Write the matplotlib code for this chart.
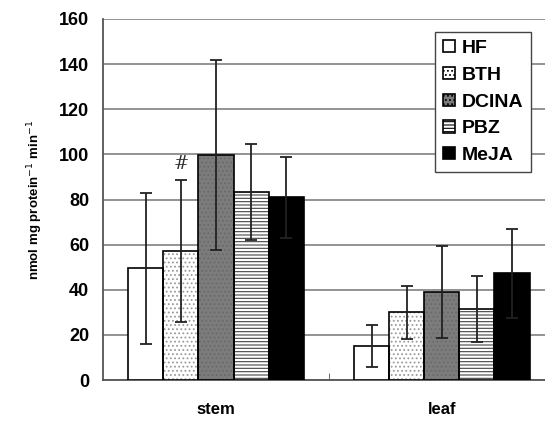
import numpy as np
import matplotlib
matplotlib.use("Agg")
import matplotlib.pyplot as plt
from matplotlib.patches import Patch

tissues = ["stem", "leaf"]
treatments = ["HF", "BTH", "DCINA", "PBZ", "MeJA"]

means = {
    "HF":    [49.5, 15.2],
    "BTH":   [57.0, 30.0],
    "DCINA": [99.7, 39.0],
    "PBZ":   [83.2, 31.5],
    "MeJA":  [81.0, 47.4],
}
errors = {
    "HF":    [33.5, 9.3],
    "BTH":   [31.5, 11.8],
    "DCINA": [42.0, 20.3],
    "PBZ":   [21.3, 14.7],
    "MeJA":  [18.0, 19.7],
}

# fill colour, hatch, hatch colour
styles = {
    "HF":    ("white", "", "black"),
    "BTH":   ("white", "....", "#9a9a9a"),
    "DCINA": ("#7c7c7c", "....", "#6a6a6a"),
    "PBZ":   ("white", "-----", "#444444"),
    "MeJA":  ("black", "", "black"),
}

plt.rcParams["font.family"] = ["Liberation Sans", "DejaVu Sans"]
plt.rcParams["hatch.linewidth"] = 0.8

fig = plt.figure(figsize=(5.45, 4.22), dpi=100)
ax = fig.add_axes([0.189, 0.0995, 0.811, 0.8555])

x = np.arange(len(tissues))
width = 0.155

for i, t in enumerate(treatments):
    pos = x + (i - 2) * width
    face, hatch, hcol = styles[t]
    ax.bar(pos, means[t], width, color=face, edgecolor=hcol, hatch=hatch,
           linewidth=0, zorder=3)
    ax.bar(pos, means[t], width, fill=False, edgecolor="black",
           linewidth=1.2, zorder=4)
    ax.errorbar(pos, means[t], yerr=errors[t], fmt="none", ecolor="#222222",
                elinewidth=1.3, capsize=4.5, capthick=1.3, zorder=5)

# significance mark above stem BTH
ax.text(x[0] - width, 88.6 + 3, "#", ha="center", va="bottom",
        fontsize=13, family="DejaVu Serif", color="#333333", zorder=6)

ax.set_ylim(0, 160)
ax.set_xlim(-0.5, 1.456)
ax.set_yticks(np.arange(0, 161, 20))
ax.yaxis.grid(True, color="#8a8a8a", linewidth=1.3, zorder=0)
ax.set_axisbelow(True)

ax.set_xticks(x)
ax.set_xticklabels(tissues, fontsize=12, fontweight="bold")
ax.tick_params(axis="x", length=0, pad=16)
ax.set_xticks([0.5], minor=True)
ax.tick_params(axis="x", which="minor", direction="in", length=5, color="#555555")
ax.tick_params(axis="y", length=0, labelsize=13, pad=10)
for lab in ax.get_yticklabels():
    lab.set_fontweight("bold")

ax.set_ylabel("nmol mg protein$^{-1}$ min$^{-1}$", fontsize=9.5,
              fontweight="bold", labelpad=10)

for s in ["top", "right"]:
    ax.spines[s].set_visible(False)
ax.spines["left"].set_color("#555555")
ax.spines["bottom"].set_color("#555555")
ax.spines["left"].set_linewidth(1.3)
ax.spines["bottom"].set_linewidth(1.3)

handles = []
for t in treatments:
    face, hatch, hcol = styles[t]
    handles.append(Patch(facecolor=face, edgecolor="black", hatch=hatch,
                         linewidth=1.2))
leg = ax.legend(handles, treatments, loc="upper right",
                bbox_to_anchor=(0.99, 0.99), frameon=True, fancybox=False,
                edgecolor="#444444", framealpha=1, handlelength=0.6,
                handleheight=0.6, handletextpad=0.35, labelspacing=0.5,
                borderpad=0.4, prop={"weight": "bold", "size": 14})
leg.get_frame().set_linewidth(1.0)

fig.savefig("out.png", dpi=100)
